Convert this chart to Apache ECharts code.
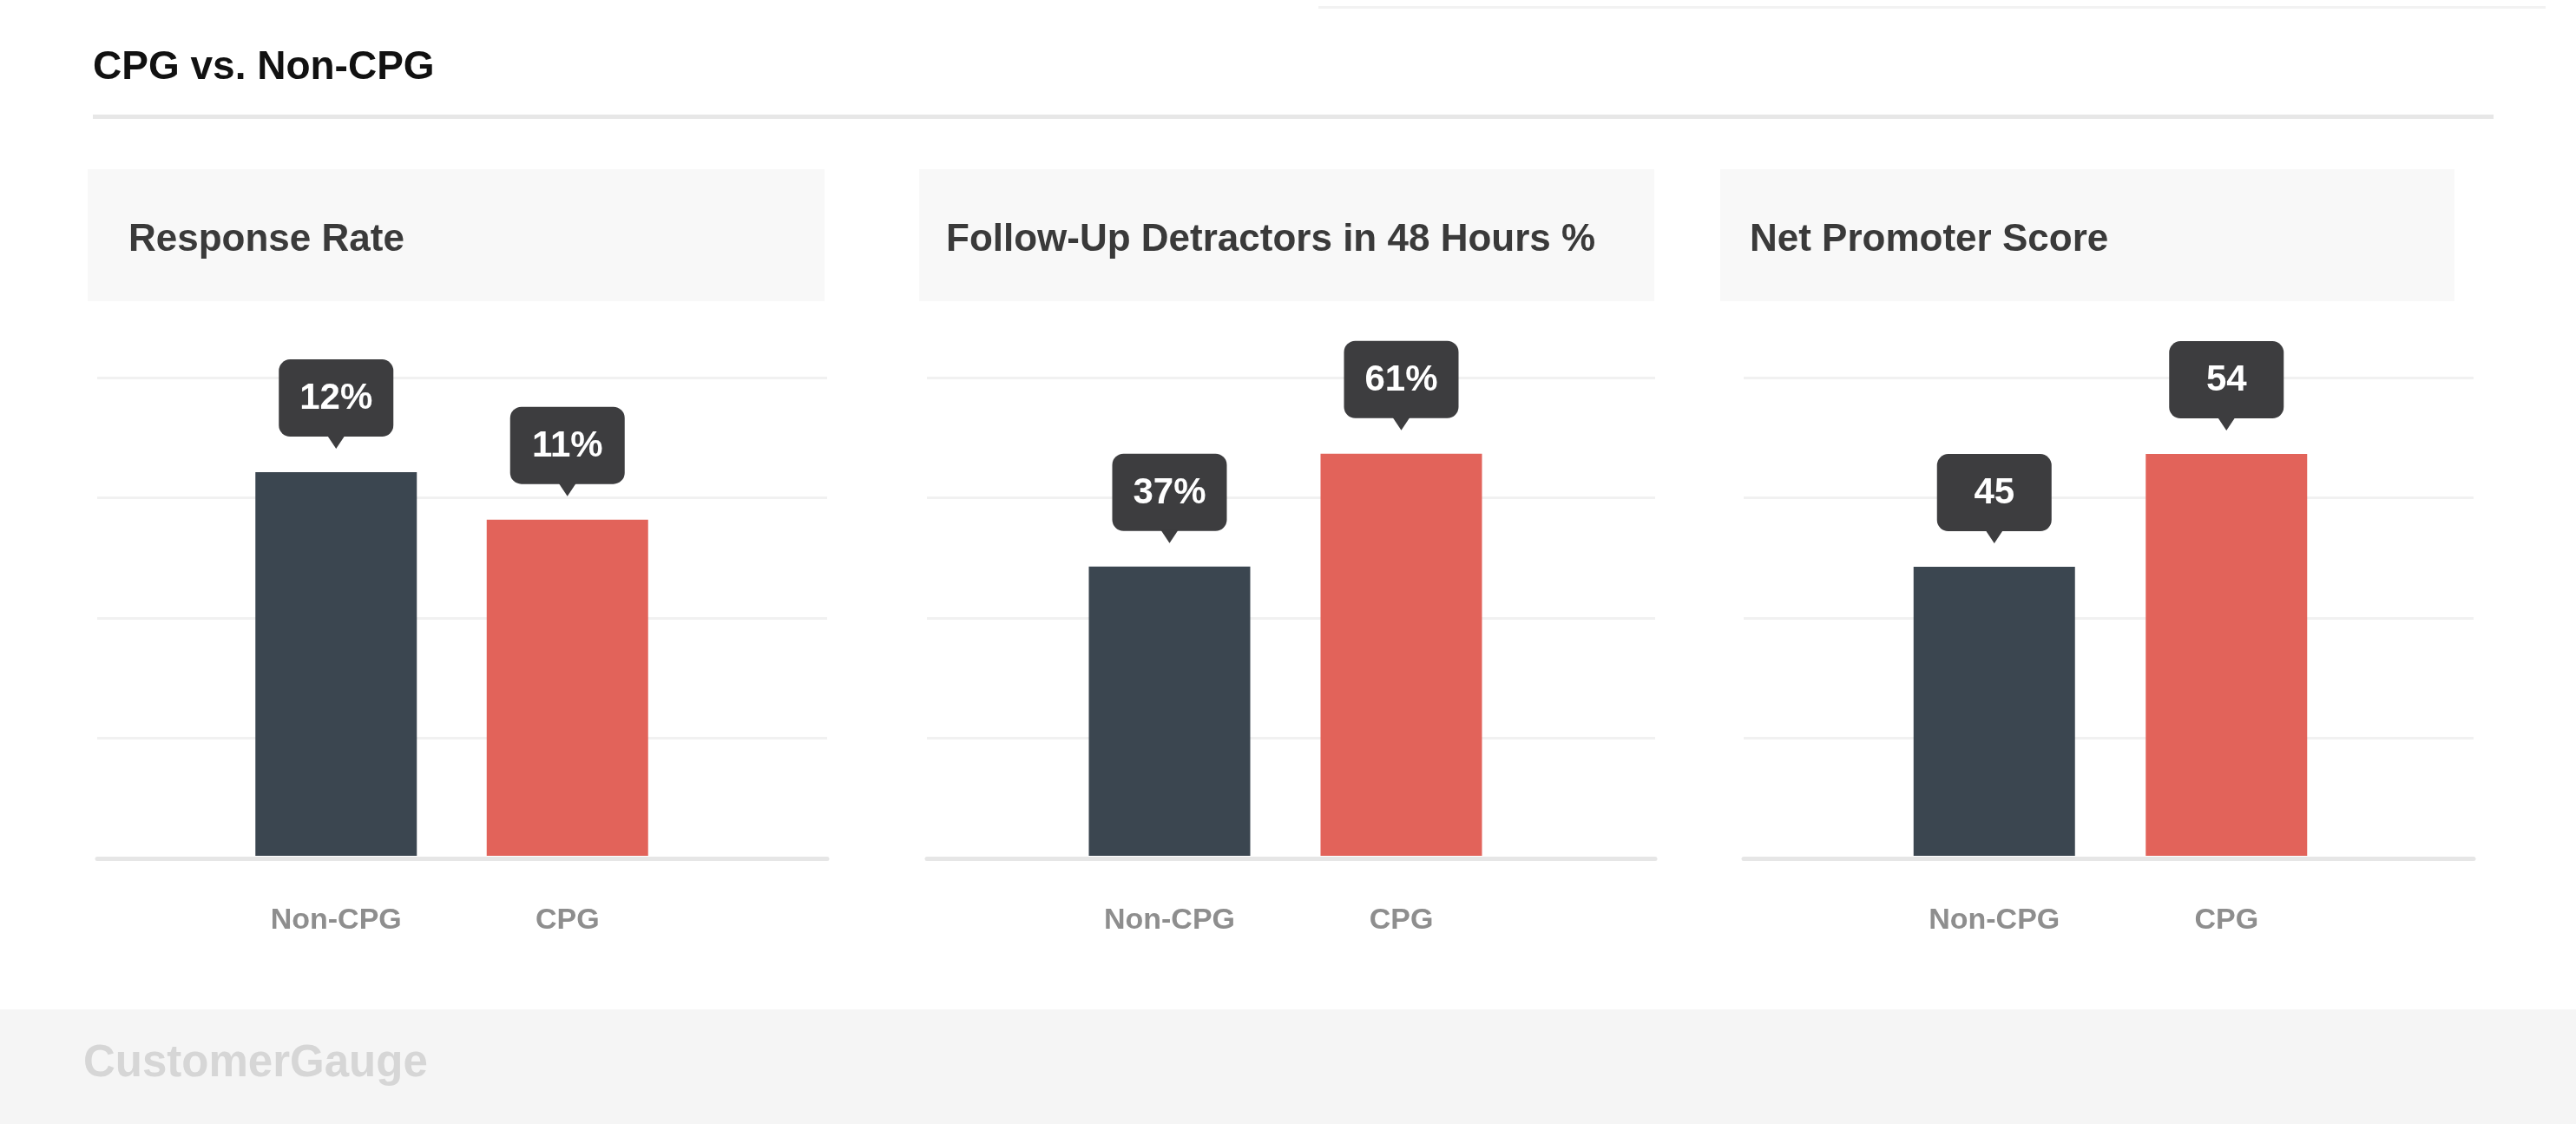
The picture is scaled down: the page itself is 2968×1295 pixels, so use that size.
<!DOCTYPE html>
<html>
<head>
<meta charset="utf-8">
<style>
  html, body { margin: 0; padding: 0; background: #ffffff; }
  #chart { width: 2968px; height: 1295px; }
</style>
<script src="https://cdn.jsdelivr.net/npm/echarts@6/dist/echarts.min.js"></script>
</head>
<body>
<div id="chart"></div>
<script>
// ---- data ----
const mainTitle = 'CPG vs. Non-CPG';
const categories = ['Non-CPG', 'CPG'];
const panelTitles = ['Response Rate', 'Follow-Up Detractors in 48 Hours %', 'Net Promoter Score'];
const responseRate = [12, 11];
const followUpDetractors = [37, 61];
const netPromoterScore = [45, 54];
const valueSuffixes = ['%', '%', ''];
const brandText = 'CustomerGauge';

// ---- layout / style ----
const FONT = '"Liberation Sans", Arial, Helvetica, sans-serif';
const W = 2968, H = 1295;
const barColors = ['#3b4650', '#e2635a'];
const calloutColor = '#3d3d3f';

const panels = [
  { values: responseRate,       suffix: valueSuffixes[0], title: panelTitles[0],
    box: [101, 195, 950, 347], titleX: 148,
    bg: [112, 953], bars: [254, 787], yMin: 3.9, yMax: 14.0 },
  { values: followUpDetractors, suffix: valueSuffixes[1], title: panelTitles[1],
    box: [1059, 195, 1906, 347], titleX: 1090,
    bg: [1068, 1907], bars: [1214, 1748], yMin: -24.5, yMax: 77.2 },
  { values: netPromoterScore,   suffix: valueSuffixes[2], title: panelTitles[2],
    box: [1982, 195, 2828, 347], titleX: 2016,
    bg: [2009, 2850], bars: [2164, 2699], yMin: 21.95, yMax: 60.1 }
];

const GRID_TOP = 435;
const BG_BOTTOM = 989;
const BAR_BOTTOM = 986;
const BAR_WIDTH = 186;

const grid = [], xAxis = [], yAxis = [], series = [];
const graphic = [];

// page decorations
graphic.push({ type: 'rect', z: -20, shape: { x: 1519, y: 7, width: 1414, height: 3 }, style: { fill: '#f2f2f2' } });
graphic.push({ type: 'text', x: 107, y: 78, z: 10,
  style: { text: mainTitle, font: 'bold 46px ' + FONT, fill: '#111111',
           align: 'left', verticalAlign: 'middle', textAlign: 'left', textVerticalAlign: 'middle' } });
graphic.push({ type: 'rect', z: -20, shape: { x: 107, y: 132, width: 2766, height: 5 }, style: { fill: '#e7e7e7' } });
graphic.push({ type: 'rect', z: -20, shape: { x: 0, y: 1163, width: W, height: H - 1163 }, style: { fill: '#f5f5f5' } });
graphic.push({ type: 'text', x: 96, y: 1226, z: 10,
  style: { text: brandText, font: 'bold 51px ' + FONT, fill: '#d6d6d6',
           align: 'left', verticalAlign: 'middle', textAlign: 'left', textVerticalAlign: 'middle' } });

panels.forEach((p, i) => {
  // header box + title
  graphic.push({ type: 'rect', z: -20,
    shape: { x: p.box[0], y: p.box[1], width: p.box[2] - p.box[0], height: p.box[3] - p.box[1] },
    style: { fill: '#f8f8f8' } });
  graphic.push({ type: 'text', x: p.titleX, y: 277, z: 10,
    style: { text: p.title, font: 'bold 44px ' + FONT, fill: '#3a3a3a',
             align: 'left', verticalAlign: 'middle', textAlign: 'left', textVerticalAlign: 'middle' } });

  // background grid (gridlines + baseline)
  const bgIdx = grid.length;
  grid.push({ left: p.bg[0], width: p.bg[1] - p.bg[0], top: GRID_TOP, height: BG_BOTTOM - GRID_TOP });
  xAxis.push({ gridIndex: bgIdx, type: 'value', min: 0, max: 1, show: true,
    axisLine: { show: true, lineStyle: { color: '#e6e6e6', width: 5 } },
    axisTick: { show: false }, axisLabel: { show: false }, splitLine: { show: false } });
  yAxis.push({ gridIndex: bgIdx, type: 'value', min: 0, max: 4, interval: 1,
    axisLine: { show: false }, axisTick: { show: false }, axisLabel: { show: false },
    splitLine: { show: true, lineStyle: { color: '#f1f1f1', width: 3 } } });

  // bar grid
  const bIdx = grid.length;
  grid.push({ left: p.bars[0], width: p.bars[1] - p.bars[0], top: GRID_TOP, height: BAR_BOTTOM - GRID_TOP });
  xAxis.push({ gridIndex: bIdx, type: 'category', data: categories,
    axisLine: { show: false }, axisTick: { show: false },
    axisLabel: { show: true, margin: 58, fontFamily: FONT, fontWeight: 'bold', fontSize: 34, color: '#8e8e8e' },
    splitLine: { show: false } });
  yAxis.push({ gridIndex: bIdx, type: 'value', min: p.yMin, max: p.yMax,
    axisLine: { show: false }, axisTick: { show: false }, axisLabel: { show: false },
    splitLine: { show: false } });

  const yMin = p.yMin;
  // bars (drawn from the axis minimum up to the value, through the axis scales)
  series.push({
    type: 'custom', name: p.title, xAxisIndex: bIdx, yAxisIndex: bIdx, z: 3, silent: true,
    data: p.values.map((v, j) => [j, v]),
    renderItem: function (params, api) {
      const idx = api.value(0);
      const topPt = api.coord([idx, api.value(1)]);
      const basePt = api.coord([idx, yMin]);
      return {
        type: 'rect',
        shape: { x: topPt[0] - BAR_WIDTH / 2, y: topPt[1], width: BAR_WIDTH, height: basePt[1] - topPt[1] },
        style: { fill: barColors[idx] }
      };
    }
  });

  const suffix = p.suffix;
  // value callouts
  series.push({
    type: 'custom', xAxisIndex: bIdx, yAxisIndex: bIdx, z: 5, clip: false, silent: true,
    data: p.values.map((v, j) => [j, v]),
    renderItem: function (params, api) {
      const pt = api.coord([api.value(0), api.value(1)]);
      const cx = pt[0], top = pt[1];
      const tipY = top - 27;
      const boxBottom = tipY - 14;
      const boxH = 89, boxW = 132;
      const boxTop = boxBottom - boxH;
      return {
        type: 'group',
        children: [
          { type: 'rect', shape: { x: cx - boxW / 2, y: boxTop, width: boxW, height: boxH, r: 13 },
            style: { fill: calloutColor } },
          { type: 'polygon', shape: { points: [[cx - 10, boxBottom - 1], [cx + 10, boxBottom - 1], [cx, tipY]] },
            style: { fill: calloutColor } },
          { type: 'text', x: cx, y: boxTop + boxH / 2 + 1,
            style: { text: api.value(1) + suffix, font: 'bold 42px ' + FONT, fill: '#ffffff',
                     align: 'center', verticalAlign: 'middle', textAlign: 'center', textVerticalAlign: 'middle' } }
        ]
      };
    }
  });
});

const chart = echarts.init(document.getElementById('chart'), null, { renderer: 'canvas', width: W, height: H });
chart.setOption({
  animation: false,
  backgroundColor: '#ffffff',
  grid: grid,
  xAxis: xAxis,
  yAxis: yAxis,
  series: series,
  graphic: graphic
});
</script>
</body>
</html>
